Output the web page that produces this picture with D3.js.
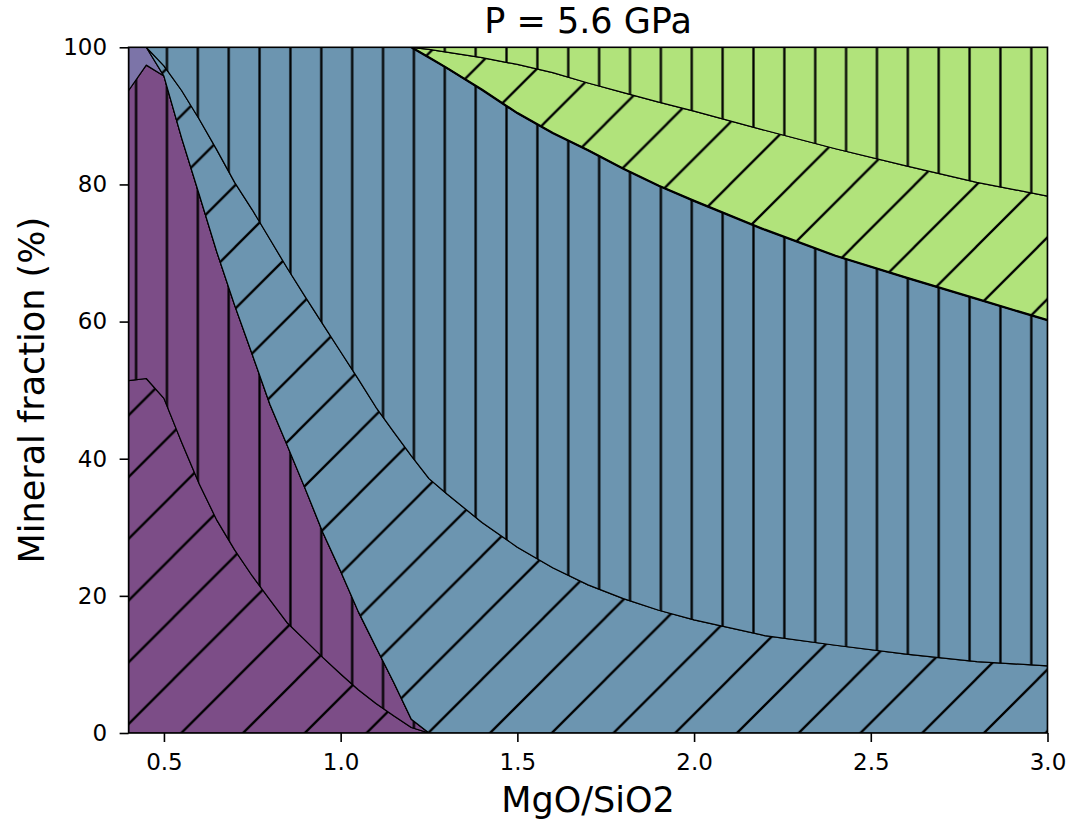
<!DOCTYPE html>
<html><head><meta charset="utf-8">
<script src="https://cdn.jsdelivr.net/npm/d3@7"></script>
<style>
body{margin:0;background:#fff}
text{font-family:"DejaVu Sans",sans-serif}
</style>
</head><body>
<svg id="chart" width="1071" height="821"></svg>
<script>
// ---- data (mineral fraction, %, per phase, stacked bottom -> top) ----
const mgoSio2 = [0.4,0.45,0.5,0.55,0.6,0.65,0.7,0.75,0.8,0.85,0.9,0.95,1.0,1.05,1.1,1.15,1.2,1.25,1.3,1.4,1.5,1.6,1.7,1.8,1.9,2.0,2.2,2.4,2.6,2.8,3.0];
const phaseA1 = [51.4,51.7,48.8,42.4,36.3,31.0,26.7,22.9,19.4,16.0,13.5,11.0,8.6,6.3,4.3,2.5,0.8,0,0,0,0,0,0,0,0,0,0,0,0,0,0];
const phaseA2 = [42.3,45.7,47.0,44.4,42.2,39.1,35.7,32.3,28.5,25.8,22.1,18.2,15.0,11.4,8.2,4.9,1.2,0,0,0,0,0,0,0,0,0,0,0,0,0,0];
const phaseB  = [6.3,2.6,0,0,0,0,0,0,0,0,0,0,0,0,0,0,0,0,0,0,0,0,0,0,0,0,0,0,0,0,0];
const phaseC1 = [0,0,1.5,6.9,11.0,14.9,17.9,21.1,24.1,25.9,28.0,30.4,32.0,33.9,35.0,36.5,38.4,37.1,34.9,30.7,27.1,24.1,21.6,19.6,17.9,16.5,14.2,12.8,11.5,10.4,9.8];
const phaseC2 = [0,0,2.7,6.3,10.5,15.0,19.7,23.7,28.0,32.3,36.4,40.4,44.4,48.4,52.5,56.1,59.6,61.4,62.1,63.1,63.3,63.4,63.4,62.7,61.9,61.1,59.2,56.8,54.9,52.9,50.4];
const phaseD1 = [0,0,0,0,0,0,0,0,0,0,0,0,0,0,0,0,0,1.2,2.3,4.7,7.1,8.8,9.8,11.1,12.2,13.1,14.5,15.6,16.3,17.0,18.1];
const phaseD2 = [0,0,0,0,0,0,0,0,0,0,0,0,0,0,0,0,0,0.3,0.7,1.5,2.5,3.7,5.2,6.6,8.0,9.3,12.1,14.8,17.3,19.7,21.7];
const xTicks = [0.5,1.0,1.5,2.0,2.5,3.0];
const yTicks = [0,20,40,60,80,100];
const titleText = "P = 5.6 GPa";
const xLabel = "MgO/SiO2";
const yLabel = "Mineral fraction (%)";

// ---- styles ----
const keys = ["A1","A2","B","C1","C2","D1","D2"];
const layerStyle = {
  A1:{fill:"#7c4d87", hatch:"diag"},
  A2:{fill:"#7c4d87", hatch:"vert"},
  B: {fill:"#7c74a8", hatch:"none"},
  C1:{fill:"#6c95b0", hatch:"diag"},
  C2:{fill:"#6c95b0", hatch:"vert"},
  D1:{fill:"#b1e37b", hatch:"diag"},
  D2:{fill:"#b1e37b", hatch:"vert"}
};

const rows = mgoSio2.map((x,i)=>({x, A1:phaseA1[i], A2:phaseA2[i], B:phaseB[i], C1:phaseC1[i], C2:phaseC2[i], D1:phaseD1[i], D2:phaseD2[i]}));

const svg = d3.select("#chart");
const L = 128.6, R = 1047.5, T = 47.3, B = 733;
const x = d3.scaleLinear().domain([0.4,3.0]).range([L,R]);
const y = d3.scaleLinear().domain([0,100]).range([B,T]);

// hatch patterns
const defs = svg.append("defs");
const hs = 30.87;
const pv = defs.append("pattern").attr("id","vert").attr("patternUnits","userSpaceOnUse")
  .attr("width",hs).attr("height",hs).attr("x",12.6-hs/2).attr("y",0);
pv.append("line").attr("x1",hs/2).attr("x2",hs/2).attr("y1",-1).attr("y2",hs+1)
  .attr("stroke","#000").attr("stroke-width",2.3);
const ds = 2*hs;
const pd = defs.append("pattern").attr("id","diag").attr("patternUnits","userSpaceOnUse")
  .attr("width",ds).attr("height",ds).attr("x",50).attr("y",0);
pd.append("path").attr("d",`M0,${ds}L${ds},0M${-ds/2},${ds/2}L${ds/2},${-ds/2}M${ds/2},${ds*1.5}L${ds*1.5},${ds/2}`)
  .attr("stroke","#000").attr("stroke-width",2.3).attr("fill","none");
defs.append("clipPath").attr("id","clip").append("rect")
  .attr("x",L).attr("y",T).attr("width",R-L).attr("height",B-T);

const stack = d3.stack().keys(keys);
const series = stack(rows);
const area = d3.area().x(d=>x(d.data.x)).y0(d=>y(d[0])).y1(d=>y(d[1]));

const g = svg.append("g").attr("clip-path","url(#clip)");
series.forEach(s=>{
  const st = layerStyle[s.key];
  g.append("path").attr("d",area(s)).attr("fill",st.fill);
  if(st.hatch!=="none") g.append("path").attr("d",area(s)).attr("fill",`url(#${st.hatch})`);
  g.append("path").attr("d",area(s)).attr("fill","none").attr("stroke","#000").attr("stroke-width",1.2).attr("stroke-linejoin","round");
});
// emphasised top boundary of layer C2
const topLine = d3.line().x(d=>x(d.data.x)).y(d=>y(d[1]));
const c2 = series.find(s=>s.key==="C2");
g.append("path").attr("d",topLine(c2.filter(d=>d.data.x>=1.2))).attr("fill","none").attr("stroke","#000").attr("stroke-width",2.3);

// axes
const xa = svg.append("g").attr("transform",`translate(0,${B})`)
  .call(d3.axisBottom(x).tickValues(xTicks).tickFormat(d3.format(".1f")).tickSize(9).tickPadding(12));
const ya = svg.append("g").attr("transform",`translate(${L},0)`)
  .call(d3.axisLeft(y).tickValues(yTicks).tickFormat(d3.format("d")).tickSize(9).tickPadding(12.5));
[xa,ya].forEach(a=>{
  a.select(".domain").remove();
  a.selectAll("line").attr("stroke","#000").attr("stroke-width",1.6);
  a.selectAll("text").attr("font-size",23).attr("fill","#000").attr("font-family","DejaVu Sans");
});
svg.append("rect").attr("x",L).attr("y",T).attr("width",R-L).attr("height",B-T)
  .attr("fill","none").attr("stroke","#000").attr("stroke-width",1.6);

svg.append("text").attr("x",(L+R)/2).attr("y",33).attr("text-anchor","middle").attr("font-size",35).text(titleText);
svg.append("text").attr("x",(L+R)/2).attr("y",812).attr("text-anchor","middle").attr("font-size",35).text(xLabel);
svg.append("text").attr("transform",`translate(44,${(T+B)/2}) rotate(-90)`).attr("text-anchor","middle").attr("font-size",35).text(yLabel);
</script>
</body></html>
